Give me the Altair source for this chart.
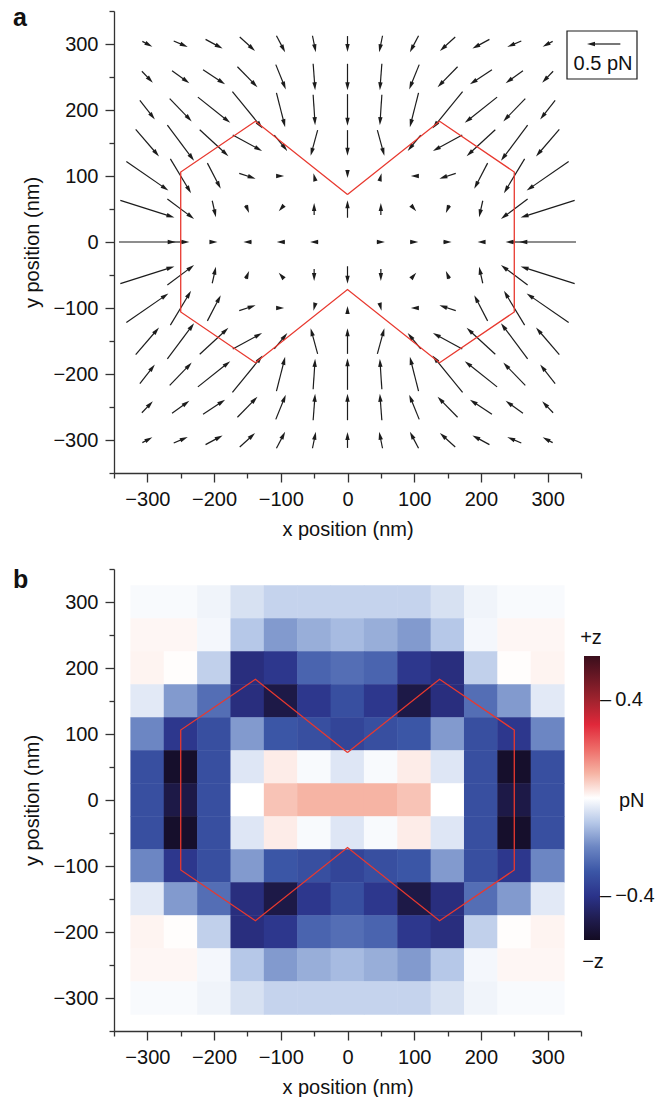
import altair as alt
import pandas as pd

# ---------------- data ----------------
GRID_X = [-300, -250, -200, -150, -100, -50, 0, 50, 100, 150, 200, 250, 300]
GRID_Y = [300, 250, 200, 150, 100, 50, 0, -50, -100, -150, -200, -250, -300]

# force components (pN), rows follow GRID_Y, columns follow GRID_X
FX = [
    [0.15, 0.21, 0.255, 0.23, 0.13, 0.05, 0, -0.05, -0.13, -0.23, -0.255, -0.21, -0.15],
    [0.165, 0.26, 0.33, 0.30, 0.15, 0.03, 0, -0.03, -0.15, -0.30, -0.33, -0.26, -0.165],
    [0.225, 0.33, 0.485, 0.45, 0.13, 0.03, 0, -0.03, -0.13, -0.45, -0.485, -0.33, -0.225],
    [0.35, 0.40, 0.43, 0.44, 0.195, -0.105, 0, 0.105, -0.195, -0.44, -0.43, -0.40, -0.35],
    [0.63, 0.31, 0.20, 0.245, 0.10, -0.02, 0, 0.02, -0.10, -0.245, -0.20, -0.31, -0.63],
    [0.81, 0.40, 0.055, 0.05, -0.06, 0.0, 0, 0.0, 0.06, -0.05, -0.055, -0.40, -0.81],
    [0.85, 0.26, 0.10, -0.12, -0.12, -0.12, 0, 0.12, 0.12, 0.12, -0.10, -0.26, -0.85],
    [0.81, 0.40, 0.055, 0.05, -0.06, 0.0, 0, 0.0, 0.06, -0.05, -0.055, -0.40, -0.81],
    [0.63, 0.31, 0.20, 0.245, 0.10, -0.02, 0, 0.02, -0.10, -0.245, -0.20, -0.31, -0.63],
    [0.35, 0.40, 0.43, 0.44, 0.195, -0.105, 0, 0.105, -0.195, -0.44, -0.43, -0.40, -0.35],
    [0.225, 0.33, 0.485, 0.45, 0.13, 0.03, 0, -0.03, -0.13, -0.45, -0.485, -0.33, -0.225],
    [0.165, 0.26, 0.33, 0.30, 0.15, 0.03, 0, -0.03, -0.15, -0.30, -0.33, -0.26, -0.165],
    [0.15, 0.21, 0.255, 0.23, 0.13, 0.05, 0, -0.05, -0.13, -0.23, -0.255, -0.21, -0.15],
]
FY = [
    [-0.08, -0.09, -0.14, -0.21, -0.25, -0.25, -0.24, -0.25, -0.25, -0.21, -0.14, -0.09, -0.08],
    [-0.175, -0.19, -0.22, -0.31, -0.375, -0.40, -0.40, -0.40, -0.375, -0.31, -0.22, -0.19, -0.175],
    [-0.29, -0.345, -0.39, -0.56, -0.52, -0.46, -0.48, -0.46, -0.52, -0.56, -0.39, -0.345, -0.29],
    [-0.41, -0.54, -0.40, -0.24, -0.24, -0.39, -0.39, -0.39, -0.24, -0.24, -0.40, -0.54, -0.41],
    [-0.44, -0.52, -0.39, -0.08, 0.0, 0.08, -0.06, 0.08, 0.0, -0.08, -0.39, -0.52, -0.44],
    [-0.26, -0.30, -0.25, -0.12, -0.07, 0.185, 0.265, 0.185, -0.07, -0.12, -0.25, -0.30, -0.26],
    [0, 0, 0, 0, 0, 0, 0, 0, 0, 0, 0, 0, 0],
    [0.26, 0.30, 0.25, 0.12, 0.07, -0.185, -0.265, -0.185, 0.07, 0.12, 0.25, 0.30, 0.26],
    [0.44, 0.52, 0.39, 0.08, 0.0, -0.08, 0.06, -0.08, 0.0, 0.08, 0.39, 0.52, 0.44],
    [0.41, 0.54, 0.40, 0.24, 0.24, 0.39, 0.39, 0.39, 0.24, 0.24, 0.40, 0.54, 0.41],
    [0.29, 0.345, 0.39, 0.56, 0.52, 0.46, 0.48, 0.46, 0.52, 0.56, 0.39, 0.345, 0.29],
    [0.175, 0.19, 0.22, 0.31, 0.375, 0.40, 0.40, 0.40, 0.375, 0.31, 0.22, 0.19, 0.175],
    [0.08, 0.09, 0.14, 0.21, 0.25, 0.25, 0.24, 0.25, 0.25, 0.21, 0.14, 0.09, 0.08],
]

# z force (pN) for the heat map, rows follow GRID_Y
FZ = [
    [-0.01, -0.01, -0.02, -0.055, -0.08, -0.08, -0.08, -0.08, -0.08, -0.055, -0.02, -0.01, -0.01],
    [0.012, 0.012, -0.015, -0.10, -0.17, -0.14, -0.12, -0.14, -0.17, -0.10, -0.015, 0.012, 0.012],
    [0.015, 0.003, -0.085, -0.42, -0.39, -0.27, -0.25, -0.27, -0.39, -0.42, -0.085, 0.003, 0.015],
    [-0.04, -0.17, -0.25, -0.42, -0.51, -0.39, -0.32, -0.39, -0.51, -0.42, -0.25, -0.17, -0.04],
    [-0.20, -0.39, -0.32, -0.17, -0.30, -0.32, -0.35, -0.32, -0.30, -0.17, -0.32, -0.39, -0.20],
    [-0.32, -0.56, -0.32, -0.045, 0.025, -0.01, -0.045, -0.01, 0.025, -0.045, -0.32, -0.56, -0.32],
    [-0.32, -0.51, -0.32, 0.0, 0.08, 0.10, 0.10, 0.10, 0.08, 0.0, -0.32, -0.51, -0.32],
    [-0.32, -0.56, -0.32, -0.045, 0.025, -0.01, -0.045, -0.01, 0.025, -0.045, -0.32, -0.56, -0.32],
    [-0.20, -0.39, -0.32, -0.17, -0.30, -0.32, -0.35, -0.32, -0.30, -0.17, -0.32, -0.39, -0.20],
    [-0.04, -0.17, -0.25, -0.42, -0.51, -0.39, -0.32, -0.39, -0.51, -0.42, -0.25, -0.17, -0.04],
    [0.015, 0.003, -0.085, -0.42, -0.39, -0.27, -0.25, -0.27, -0.39, -0.42, -0.085, 0.003, 0.015],
    [0.012, 0.012, -0.015, -0.10, -0.17, -0.14, -0.12, -0.14, -0.17, -0.10, -0.015, 0.012, 0.012],
    [-0.01, -0.01, -0.02, -0.055, -0.08, -0.08, -0.08, -0.08, -0.08, -0.055, -0.02, -0.01, -0.01],
]

# outline of the structure (nm)
SHAPE_X = [0, 138, 250, 250, 138, 0, -138, -250, -250, -138, 0]
SHAPE_Y = [72, 183, 106, -106, -183, -72, -183, -106, 106, 183, 72]

# scale arrow (0.5 pN)
KEY_X = [384]
KEY_Y = [300]
KEY_FX = [-0.5]
KEY_FY = [0.0]

TICKS = [-350, -300, -250, -200, -150, -100, -50, 0, 50, 100, 150, 200, 250, 300, 350]
CBAR_TICKS = [-0.4, 0.4]
CMAP_DOMAIN = [-0.58, -0.5, -0.4, -0.3, -0.2, -0.1, 0, 0.1, 0.2, 0.3, 0.4, 0.58]
CMAP_RANGE = ['#130b22', '#1f1b4c', '#2b338a', '#3b56a6', '#6c86c3', '#b6c8e8',
              '#ffffff', '#f6b4a4', '#ee6c68', '#e0283a', '#a0232e', '#3a0e1c']

# ---------------- tables ----------------
arrows_df = pd.DataFrame([
    {"x": GRID_X[c], "y": GRID_Y[r], "u": FX[r][c], "v": FY[r][c]}
    for r in range(len(GRID_Y)) for c in range(len(GRID_X))
])
key_df = pd.DataFrame({"x": KEY_X, "y": KEY_Y, "u": KEY_FX, "v": KEY_FY})
heat_df = pd.DataFrame([
    {"x": GRID_X[c], "y": GRID_Y[r], "z": FZ[r][c]}
    for r in range(len(GRID_Y)) for c in range(len(GRID_X))
])
shape_df = pd.DataFrame({"sx": SHAPE_X, "sy": SHAPE_Y, "i": list(range(len(SHAPE_X)))})
one = pd.DataFrame({"k": [0]})

# ---------------- styles ----------------
FONT = "Liberation Sans"
INK = "#1c1c1c"
RED = "#e8392f"
W, H = 467, 462
HEAD = "M0,0 L-2,-0.55 L-2,0.55 Z"

xscale = alt.Scale(domain=[-350, 350], nice=False, zero=False)
yscale = alt.Scale(domain=[-350, 350], nice=False, zero=False)
LABEL_EXPR = "datum.value % 100 === 0 ? format(datum.value, 'd') : ''"
TICK_COND = {"condition": {"test": "datum.value % 100 === 0", "value": 9}, "value": 5}

ax_x = alt.Axis(title="x position (nm)", values=TICKS, labelExpr=LABEL_EXPR,
                tickSize=TICK_COND, labelOverlap=False, labelFlush=False,
                labelPadding=7, titlePadding=10)
ax_y = alt.Axis(title="y position (nm)", values=TICKS, labelExpr=LABEL_EXPR,
                tickSize=TICK_COND, labelOverlap=False, labelFlush=False,
                labelPadding=7, titlePadding=10)


def arrow_layers(df):
    base = (
        alt.Chart(df)
        .transform_calculate(mag="sqrt(datum.u*datum.u + datum.v*datum.v)")
        .transform_filter("datum.mag > 0.015")
        .transform_calculate(x0="datum.x - 50*datum.u")
        .transform_calculate(y0="datum.y - 50*datum.v")
        .transform_calculate(x1="datum.x + 50*datum.u")
        .transform_calculate(y1="datum.y + 50*datum.v")
        .transform_calculate(s="max(0, 1 - 7/(100*datum.mag))")
        .transform_calculate(xs="datum.x0 + datum.s*(datum.x1 - datum.x0)")
        .transform_calculate(ys="datum.y0 + datum.s*(datum.y1 - datum.y0)")
        .transform_calculate(ang="(atan2(-datum.v, datum.u)*180/PI + 360) % 360")
    )
    shaft = base.mark_rule(color=INK, strokeWidth=1.2).encode(
        x=alt.X("x0:Q", scale=xscale, axis=ax_x),
        y=alt.Y("y0:Q", scale=yscale, axis=ax_y),
        x2="xs:Q", y2="ys:Q",
    )
    head = base.mark_point(shape=HEAD, filled=True, size=64, color=INK,
                           opacity=1, strokeWidth=0).encode(
        x=alt.X("x1:Q", scale=xscale, axis=ax_x),
        y=alt.Y("y1:Q", scale=yscale, axis=ax_y),
        angle=alt.Angle("ang:Q", scale=None),
    )
    return [shaft, head]


def outline():
    return alt.Chart(shape_df).mark_line(color=RED, strokeWidth=1.3).encode(
        x=alt.X("sx:Q", scale=xscale, axis=ax_x),
        y=alt.Y("sy:Q", scale=yscale, axis=ax_y),
        order=alt.Order("i:Q"),
    )


def note(txt, x, y, align="center", size=20, weight="normal"):
    return alt.Chart(one).mark_text(
        text=txt, font=FONT, fontSize=size, fontWeight=weight,
        align=align, baseline="alphabetic", color="#111",
    ).encode(x=alt.value(x), y=alt.value(y))


# ---------------- panel a ----------------
key_box = alt.Chart(one).mark_rect(fill="white", stroke=INK, strokeWidth=1.2).encode(
    x=alt.value(453), x2=alt.value(523), y=alt.value(20), y2=alt.value(68)
)

panel_a = alt.layer(
    *arrow_layers(arrows_df),
    outline(),
    key_box,
    *arrow_layers(key_df),
    note("0.5 pN", 489, 59),
    note("a", -101, 14.5, align="left", size=25, weight="bold"),
).properties(width=W, height=H)

# ---------------- panel b ----------------
cscale = alt.Scale(domain=CMAP_DOMAIN, range=CMAP_RANGE, interpolate="rgb")
heat = (
    alt.Chart(heat_df)
    .transform_calculate(hx0="datum.x - 25.4", hx1="datum.x + 25.4",
                         hy0="datum.y - 25.4", hy1="datum.y + 25.4")
    .mark_rect(strokeWidth=0)
    .encode(
        x=alt.X("hx0:Q", scale=xscale, axis=ax_x),
        x2="hx1:Q",
        y=alt.Y("hy0:Q", scale=yscale, axis=ax_y),
        y2="hy1:Q",
        color=alt.Color(
            "z:Q", scale=cscale,
            legend=alt.Legend(
                title=None, orient="none", legendX=470, legendY=645,
                direction="vertical", gradientLength=284, gradientThickness=16,
                gradientStrokeWidth=0, values=CBAR_TICKS,
                labelExpr="'\u2013\u2009' + format(datum.value, '.1f')",
                labelFont=FONT, labelFontSize=20, labelColor="#111",
                labelOffset=0, labelOverlap=False, padding=0,
            ),
        ),
    )
)

panel_b = alt.layer(
    heat, outline(),
    note("+z", 477, 75),
    note("\u2212z", 479, 399),
    note("pN", 505, 238, align="left"),
    note("b", -101, 19, align="left", size=25, weight="bold"),
).properties(width=W, height=H)

chart = (
    alt.vconcat(panel_a, panel_b, spacing=20)
    .properties(padding={"left": 13, "top": 1, "right": 0, "bottom": 0})
    .configure(font=FONT)
    .configure_view(stroke=None)
    .configure_axis(
        labelFont=FONT, titleFont=FONT, labelFontSize=20, titleFontSize=20,
        titleFontWeight="normal", labelColor="#111", titleColor="#111",
        domainColor="#333", tickColor="#333", domainWidth=1.3, tickWidth=1.3,
        grid=False,
    )
)

chart.save("out.html", embed_options={"renderer": "svg", "actions": False})
